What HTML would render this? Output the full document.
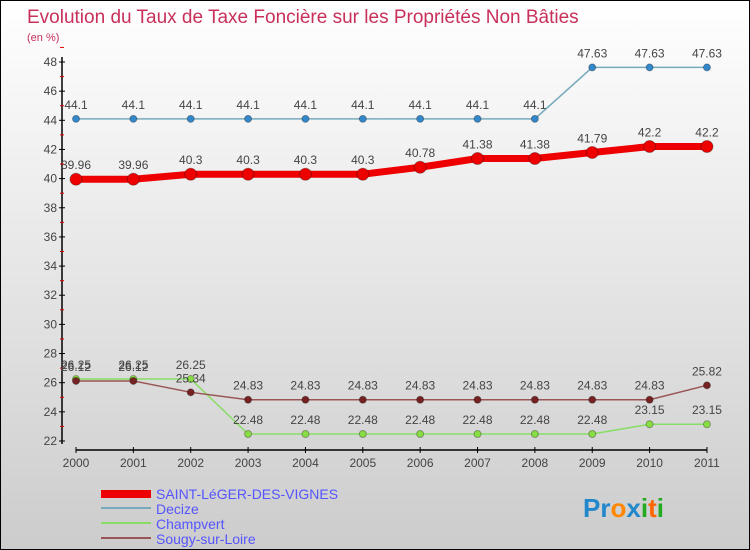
<!DOCTYPE html>
<html><head><meta charset="utf-8"><style>
body{margin:0}
#c{width:750px;height:550px;position:relative;box-sizing:border-box;border:1px solid #000;background:linear-gradient(#fff,#ccc);font-family:"Liberation Sans",sans-serif;overflow:hidden}
svg text{font-family:"Liberation Sans",sans-serif}
</style></head><body>
<div id="c">
<svg width="750" height="550" id="s">
<text x="26" y="22" font-size="19" fill="#c8305a">Evolution du Taux de Taxe Foncière sur les Propriétés Non Bâties</text>
<text x="26" y="40" font-size="11" fill="#c8305a">(en %)</text>
<g id="axes"></g><g id="series"></g>
<g>
<rect x="100" y="489" width="50" height="8" fill="#e00"/>
<text x="155" y="498" font-size="14" fill="#55f">SAINT-LéGER-DES-VIGNES</text>
<rect x="100" y="506" width="50" height="2" fill="#7ab"/>
<text x="155" y="513" font-size="14" fill="#55f">Decize</text>
<rect x="100" y="521" width="50" height="2" fill="#8d6"/>
<text x="155" y="528" font-size="14" fill="#55f">Champvert</text>
<rect x="100" y="536" width="50" height="2" fill="#955"/>
<text x="155" y="543" font-size="14" fill="#55f">Sougy-sur-Loire</text>
</g>
<text x="582" y="516" font-size="26" font-weight="bold"><tspan fill="#28c">Pr</tspan><tspan fill="#f80">o</tspan><tspan fill="#28c">x</tspan><tspan fill="#2a2">i</tspan><tspan fill="#f60">t</tspan><tspan fill="#2a2">i</tspan></text>
</svg></div>
<script>
const years=[2000,2001,2002,2003,2004,2005,2006,2007,2008,2009,2010,2011];
const yTicks=[22,24,26,28,30,32,34,36,38,40,42,44,46,48];
const saintLeger=[39.96,39.96,40.3,40.3,40.3,40.3,40.78,41.38,41.38,41.79,42.2,42.2];
const decize=[44.1,44.1,44.1,44.1,44.1,44.1,44.1,44.1,44.1,47.63,47.63,47.63];
const champvert=[26.25,26.25,26.25,22.48,22.48,22.48,22.48,22.48,22.48,22.48,23.15,23.15];
const sougy=[26.12,26.12,25.34,24.83,24.83,24.83,24.83,24.83,24.83,24.83,24.83,25.82];
const NS='http://www.w3.org/2000/svg';
const xs=i=>75+i*57.36;
const ys=v=>440-(v-22)*(379/26);
function mk(t,a,p){const e=document.createElementNS(NS,t);for(const k in a)e.setAttribute(k,a[k]);p.appendChild(e);return e;}
const ax=document.getElementById('axes');
let l=mk('line',{x1:61,y1:56,x2:61,y2:443,stroke:'#000','stroke-width':1.5},ax);


l=mk('line',{x1:75,y1:449,x2:706,y2:449,stroke:'#000','stroke-width':1.5},ax);


yTicks.forEach(v=>{
 mk('line',{x1:58,x2:64,y1:ys(v),y2:ys(v),stroke:'#000'},ax);
 mk('line',{x1:59,x2:63,y1:ys(v+1),y2:ys(v+1),stroke:'#d00'},ax);
 const t=mk('text',{x:56,y:ys(v)+4,'font-size':12,fill:'#444','text-anchor':'end'},ax);t.textContent=v;
 
 
});
years.forEach((y,i)=>{
 mk('line',{x1:xs(i),x2:xs(i),y1:446,y2:452,stroke:'#000'},ax);
 const t=mk('text',{x:xs(i),y:466,'font-size':12,fill:'#444','text-anchor':'middle'},ax);t.textContent=y;
 
 
});
const sg=document.getElementById('series');
function series(data,name,color,dot,w,r){
 const g=mk('g',{},sg);
 
 
 mk('polyline',{points:data.map((v,i)=>xs(i)+','+ys(v)).join(' '),fill:'none',stroke:color,'stroke-width':w},g);
 data.forEach((v,i)=>{
  const c=mk('circle',{cx:xs(i),cy:ys(v),r:r,fill:dot,stroke:'rgba(0,0,0,0.3)'},g);
  
  
  const t=mk('text',{x:xs(i),y:ys(v)-10,'font-size':12,fill:'#444','text-anchor':'middle'},g);t.textContent=v;
  
  
 });
}
series(decize,'decize','#7ab','#38c',1.5,3.5);
series(champvert,'champvert','#8d6','#8d4',1.5,3.5);
series(sougy,'sougy','#955','#722',1.5,3.5);
series(saintLeger,'saint-leger','#e00','#e00',7,6);
</script>
</body></html>
